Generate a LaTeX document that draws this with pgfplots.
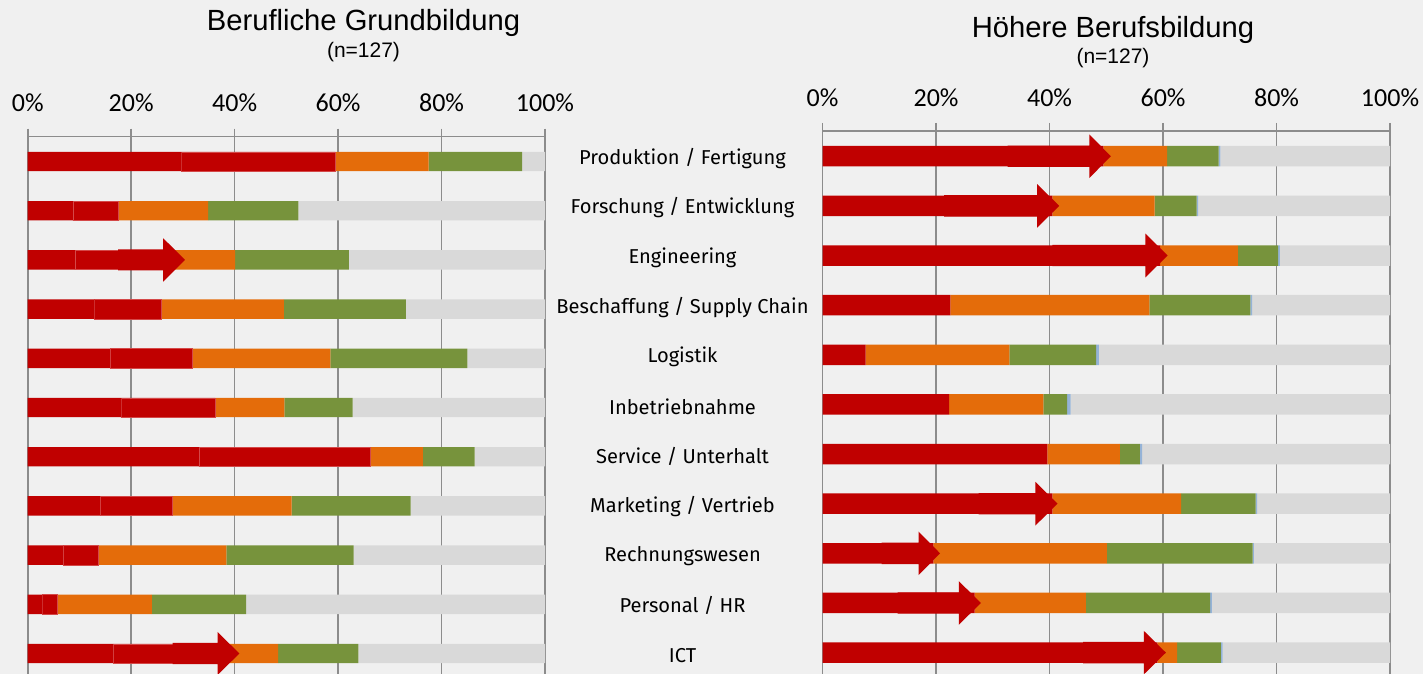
\documentclass[border=0pt]{standalone}
\usepackage{fontspec}
\setmainfont{Liberation Sans}
\newfontfamily\calib{Carlito}
\newfontfamily\fira{Fira Sans}
\usepackage{pgfplots}
\usepackage{pgfplotstable}
\pgfplotsset{compat=1.18}
\definecolor{bg}{HTML}{F0F0F0}
\definecolor{cred}{HTML}{C00000}
\definecolor{cred2}{HTML}{D44848}
\definecolor{corange}{HTML}{E46C0A}
\definecolor{cgreen}{HTML}{77933C}
\definecolor{cgray}{HTML}{D9D9D9}
\definecolor{cblue}{HTML}{95B3D7}
\definecolor{grid}{HTML}{8C8C8C}

% Berufliche Grundbildung
\pgfplotstableread{
idx rA rB or gr gy
0  29.7  29.7  18.1 18.1  4.4
1  8.75  8.75  17.4 17.4 47.7
2  9.1   9.1   21.9 22.0 37.9
3  12.9  12.9  23.7 23.6 26.9
4  15.95 15.95 26.6 26.5 15.0
5  18.1  18.1  13.4 13.2 37.2
6  33.1  33.1  10.2 10.0 13.6
7  14.0  14.0  23.0 23.0 26.0
8  6.85  6.85  24.7 24.6 37.0
9  2.85  2.85  18.3 18.2 57.8
10 16.5  16.5  15.4 15.5 36.1
}\tabL

% Hoehere Berufsbildung
\pgfplotstableread{
idx r or gr bl gy
0  49.5 11.2  9.1 0.3 29.9
1  40.5 18.0  7.4 0.3 33.8
2  59.5 13.7  7.1 0.3 19.4
3  22.5 35.1 17.8 0.3 24.3
4  7.6  25.3 15.3 0.5 51.3
5  22.3 16.6  4.2 0.6 56.3
6  39.6 12.8  3.5 0.4 43.7
7  40.5 22.7 13.1 0.3 23.4
8  19.5 30.6 25.7 0.2 24.0
9  26.8 19.6 21.9 0.3 31.4
10 59.0  3.5  7.7 0.3 29.5
}\tabR

\pgfplotsset{
  panel/.style={
    scale only axis,
    xbar stacked,
    xmin=0, xmax=100,
    y dir=reverse,
    axis x line*=top,
    axis y line=none,
    x axis line style={-, draw=grid, line width=0.8pt},
    xtick={0,20,40,60,80,100},
    xticklabels={0\%,20\%,40\%,60\%,80\%,100\%},
    xticklabel style={font=\calib\fontsize{13}{15}\selectfont, anchor=center, yshift=12.8pt},
    tick align=outside,
    major tick length=4pt,
    tick style={draw=grid, line width=0.8pt},
    ytick=\empty,
    xmajorgrids,
    major grid style={draw=grid, line width=0.8pt},
    clip=true,
  },
  overlay/.style={
    scale only axis,
    xmin=0, xmax=100,
    y dir=reverse,
    hide axis,
    clip=false,
  },
  leftgeom/.style={
    at={(13.85pt,-68.3pt)}, anchor=north west,
    width=258.65pt, height=268.7pt,
    ymin=-0.506, ymax=10.417,
  },
  rightgeom/.style={
    at={(411.3pt,-65.45pt)}, anchor=north west,
    width=283.7pt, height=271.55pt,
    ymin=-0.51, ymax=10.431,
  },
}
% arrow: start, head start, tip, row
\newcommand\arr[4]{%
  \fill[cred] (axis cs:#1,#4-0.215) -- (axis cs:#2,#4-0.215) -- (axis cs:#2,#4-0.44)
    -- (axis cs:#3,#4) -- (axis cs:#2,#4+0.44) -- (axis cs:#2,#4+0.215)
    -- (axis cs:#1,#4+0.215) -- cycle;}

\begin{document}
\begin{tikzpicture}
\useasboundingbox (0,0) rectangle (711.5pt,-337pt);
\fill[bg] (0,0) rectangle (711.5pt,-337pt);
\begin{scope}
\clip (0,0) rectangle (711.5pt,-337pt);

% left panel
\begin{axis}[panel, leftgeom, bar width=9.7pt]
\addplot[fill=cred, draw=none] table[x=rA, y=idx] {\tabL};
\addplot[fill=cred, draw=cred2, line width=0.25pt] table[x=rB, y=idx] {\tabL};
\addplot[fill=corange, draw=none] table[x=or, y=idx] {\tabL};
\addplot[fill=cgreen, draw=none] table[x=gr, y=idx] {\tabL};
\addplot[fill=cgray, draw=none] table[x=gy, y=idx] {\tabL};
\end{axis}
\begin{axis}[overlay, leftgeom]
\arr{17.5}{26.2}{30.4}{2}
\arr{28.0}{36.7}{40.9}{10}
\end{axis}

% right panel
\begin{axis}[panel, rightgeom, bar width=10.25pt]
\addplot[fill=cred, draw=none] table[x=r, y=idx] {\tabR};
\addplot[fill=corange, draw=none] table[x=or, y=idx] {\tabR};
\addplot[fill=cgreen, draw=none] table[x=gr, y=idx] {\tabR};
\addplot[fill=cblue, draw=none] table[x=bl, y=idx] {\tabR};
\addplot[fill=cgray, draw=none] table[x=gy, y=idx] {\tabR};
\end{axis}
\begin{axis}[overlay, rightgeom]
\arr{32.6}{47.0}{50.8}{0}
\arr{21.4}{37.8}{41.7}{1}
\arr{40.5}{56.9}{60.8}{2}
\arr{27.5}{37.5}{41.4}{7}
\arr{10.4}{16.9}{20.7}{8}
\arr{13.2}{24.0}{27.9}{9}
\arr{45.9}{56.6}{60.5}{10}
\end{axis}
\end{scope}

% titles
\node[font=\fontsize{14.6}{17}\selectfont] at (181.75pt,-11.5pt) {Berufliche Grundbildung};
\node[font=\fontsize{10.5}{12}\selectfont] at (181.75pt,-26pt) {(n=127)};
\node[font=\fontsize{14.6}{17}\selectfont] at (556.5pt,-14.75pt) {Höhere Berufsbildung};
\node[font=\fontsize{10.5}{12}\selectfont] at (556.5pt,-29pt) {(n=127)};

% category labels
\foreach \c [count=\i from 0] in {Produktion / Fertigung, Forschung / Entwicklung, Engineering, Beschaffung / Supply Chain, Logistik, Inbetriebnahme, Service / Unterhalt, Marketing / Vertrieb, Rechnungswesen, Personal / HR, ICT}{
  \node[font=\fira\fontsize{10.05}{12}\selectfont] at (341.25pt,{-(79.15pt+24.85pt*\i)}) {\c};
}
\end{tikzpicture}
\end{document}
